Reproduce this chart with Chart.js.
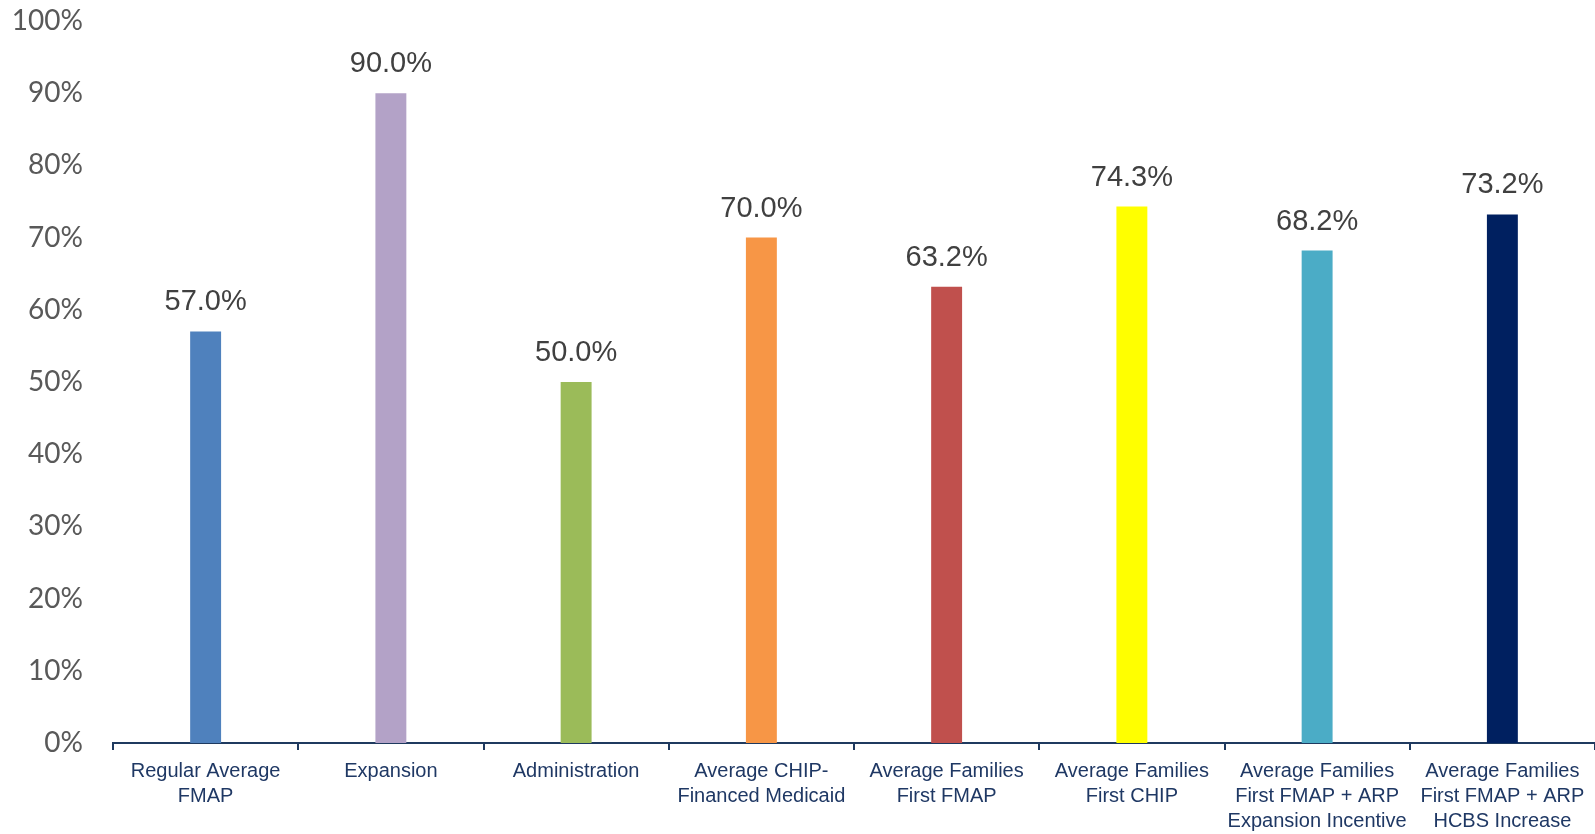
<!DOCTYPE html>
<html>
<head>
<meta charset="utf-8">
<script src="https://cdn.jsdelivr.net/npm/chart.js@4.4.0/dist/chart.umd.min.js"></script>
<style>
  html, body { margin: 0; padding: 0; background: #fff; }
  #wrap { width: 1595px; height: 834px; }
</style>
</head>
<body>
<div id="wrap"><canvas id="myChart" width="1595" height="834"></canvas></div>
<script>
// categorias (rótulos do eixo x, em várias linhas)
const categories = [
    ['Regular Average', 'FMAP'],
    ['Expansion'],
    ['Administration'],
    ['Average CHIP-', 'Financed Medicaid'],
    ['Average Families', 'First FMAP'],
    ['Average Families', 'First CHIP'],
    ['Average Families', 'First FMAP + ARP', 'Expansion Incentive'],
    ['Average Families', 'First FMAP + ARP', 'HCBS Increase']
];
// valores em %
const fmapValues = [57.0, 90.0, 50.0, 70.0, 63.2, 74.3, 68.2, 73.2];
const barColors = ['#4F81BD', '#B3A2C7', '#9BBB59', '#F79646', '#C0504D', '#FFFF00', '#4BACC6', '#002060'];

// plugin simples para escrever o valor acima de cada barra
const valueLabels = {
    id: 'valueLabels',
    afterDatasetsDraw(chart) {
        const ctx = chart.ctx;
        const meta = chart.getDatasetMeta(0);
        ctx.save();
        ctx.font = '29px "Liberation Sans"';
        ctx.fillStyle = '#404040';
        ctx.textAlign = 'center';
        ctx.textBaseline = 'middle';
        meta.data.forEach((bar, i) => {
            ctx.fillText(fmapValues[i].toFixed(1) + '%', bar.x, bar.y - 29);
        });
        ctx.restore();
    }
};

const ctx = document.getElementById('myChart').getContext('2d');
const myChart = new Chart(ctx, {
    type: 'bar',
    data: {
        labels: categories,
        datasets: [{
            data: fmapValues,
            backgroundColor: barColors,
            borderWidth: 0,
            barPercentage: 0.167,
            categoryPercentage: 1.0
        }]
    },
    options: {
        responsive: false,
        animation: false,
        layout: { padding: { top: 21, left: 0, right: 0, bottom: 0 } },
        plugins: {
            legend: { display: false },
            tooltip: { enabled: false }
        },
        scales: {
            x: {
                grid: {
                    display: true,
                    offset: true,
                    drawOnChartArea: false,
                    drawTicks: true,
                    tickLength: 7,
                    color: '#1F3A5F',
                    lineWidth: 2
                },
                border: { display: true, color: '#1F3A5F', width: 2 },
                ticks: {
                    color: '#1F3864',
                    font: { family: 'Liberation Sans', size: 20, lineHeight: 1.25 },
                    padding: 9,
                    maxRotation: 0,
                    autoSkip: false
                },
                afterFit: axis => {
                    axis.height = 91;
                    axis.paddingLeft = 0;
                    axis.paddingRight = 0;
                }
            },
            y: {
                min: 0,
                max: 100,
                grid: { display: false, drawTicks: false },
                border: { display: false },
                ticks: {
                    stepSize: 10,
                    color: '#595959',
                    font: { family: 'Lato', size: 28, lineHeight: 1.2 },
                    padding: 30,
                    callback: v => v + '%'
                },
                afterFit: axis => {
                    axis.width = 113;
                    axis.paddingTop = 0;
                    axis.paddingBottom = 0;
                }
            }
        }
    },
    plugins: [valueLabels]
});
</script>
</body>
</html>
